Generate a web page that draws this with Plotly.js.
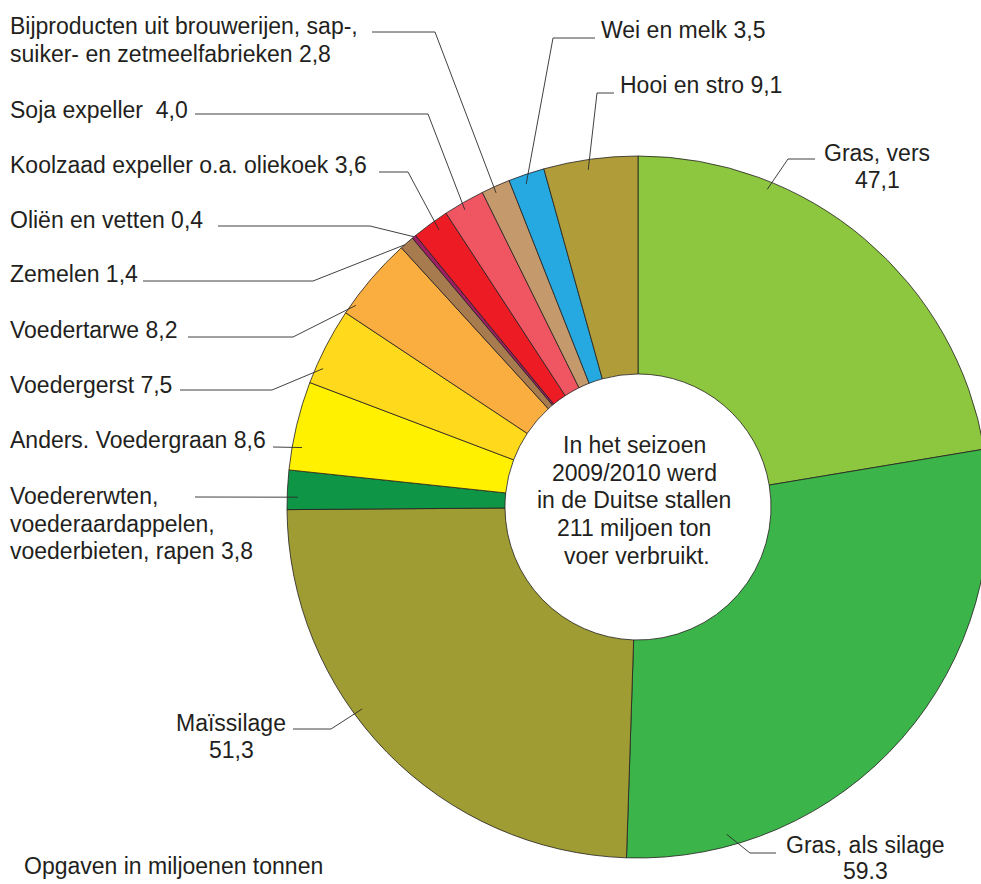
<!DOCTYPE html>
<html>
<head>
<meta charset="utf-8">
<script src="https://cdn.plot.ly/plotly-3.0.1.min.js"></script>
<style>
html, body { margin: 0; padding: 0; overflow: hidden; background: #ffffff; }
#chart { width: 1000px; height: 884px; }
</style>
</head>
<body>
<div id="chart"></div>
<script>
// ---------- DATA ----------
const categories = [
  "Gras, vers",
  "Gras, als silage",
  "Maïssilage",
  "Voedererwten, voederaardappelen, voederbieten, rapen",
  "Anders. Voedergraan",
  "Voedergerst",
  "Voedertarwe",
  "Zemelen",
  "Oliën en vetten",
  "Koolzaad expeller o.a. oliekoek",
  "Soja expeller",
  "Bijproducten uit brouwerijen, sap-, suiker- en zetmeelfabrieken",
  "Wei en melk",
  "Hooi en stro"
];
const values = [47.1, 59.3, 51.3, 3.8, 8.6, 7.5, 8.2, 1.4, 0.4, 3.6, 4.0, 2.8, 3.5, 9.1];
const labelLines = [
  ["Gras, vers", "47,1"],
  ["Gras, als silage", "59.3"],
  ["Maïssilage", "51,3"],
  ["Voedererwten,", "voederaardappelen,", "voederbieten, rapen 3,8"],
  ["Anders. Voedergraan 8,6"],
  ["Voedergerst 7,5"],
  ["Voedertarwe 8,2"],
  ["Zemelen 1,4"],
  ["Oliën en vetten 0,4"],
  ["Koolzaad expeller o.a. oliekoek 3,6"],
  ["Soja expeller\u00a0 4,0"],
  ["Bijproducten uit brouwerijen, sap-,", "suiker- en zetmeelfabrieken 2,8"],
  ["Wei en melk 3,5"],
  ["Hooi en stro 9,1"]
];
const centerLines = ["In het seizoen", "2009/2010 werd", "in de Duitse stallen", "211 miljoen ton", "voer verbruikt."];
const footnote = "Opgaven in miljoenen tonnen";

// ---------- STYLE / LAYOUT ----------
const colors = [
  "#8dc63f", "#3bb54a", "#9f9c33", "#0f9546", "#fff100", "#ffd91c", "#fbae40",
  "#a87b4f", "#9e1f63", "#ed1c24", "#ef5662", "#c49a6c", "#25a9e0", "#b09d3a"
];
const W = 1000, H = 884;
const CX = 638, CY = 507, R = 351, HOLE = 0.379;
const FONT = { family: "Liberation Sans, Arial, Helvetica, sans-serif", size: 23, color: "#231f20" };

// label placement (pixels): text position, line gap, leader line text-end x, elbow x, line y, position within slice, radius factor
const labelLayout = [
  { x: 877, y: 153,   gap: 27.5, anchor: "center", lx: 815, ex: 788, ly: 159, f: 0.275, rf: 0.977 },
  { x: 865, y: 845,   gap: 25.5, anchor: "center", lx: 776, ex: 750, ly: 853, f: 0.832, rf: 0.966 },
  { x: 231, y: 722.5, gap: 27.5, anchor: "center", lx: 293, ex: 331, ly: 729, f: 0.592, rf: 0.974 },
  { x: 8,   y: 496,   gap: 27.5, anchor: "left",   lx: 195, ex: 195, ly: 497, f: 0.32,  rf: 0.969 },
  { x: 8,   y: 440,   gap: 27.5, anchor: "left",   lx: 273, ex: 273, ly: 447, f: 0.27,  rf: 0.972 },
  { x: 8,   y: 385,   gap: 27.5, anchor: "left",   lx: 180, ex: 272, ly: 390, f: 0.23,  rf: 0.98 },
  { x: 8,   y: 330,   gap: 27.5, anchor: "left",   lx: 188, ex: 293, ly: 337, f: 0.14,  rf: 0.988 },
  { x: 8,   y: 274,   gap: 27.5, anchor: "left",   lx: 143, ex: 313, ly: 281, f: 0.3,   rf: 1.0 },
  { x: 8,   y: 219.5, gap: 27.5, anchor: "left",   lx: 218, ex: 370, ly: 226, f: 0.5,   rf: 1.0 },
  { x: 8,   y: 164.5, gap: 27.5, anchor: "left",   lx: 379, ex: 408, ly: 172, f: 0.59,  rf: 0.972 },
  { x: 8,   y: 109.5, gap: 27.5, anchor: "left",   lx: 195, ex: 428, ly: 114, f: 0.43,  rf: 0.98 },
  { x: 8,   y: 26,    gap: 27.5, anchor: "left",   lx: 372, ex: 435, ly: 32,  f: 0.42,  rf: 0.982 },
  { x: 599, y: 30,    gap: 27.5, anchor: "left",   lx: 595, ex: 553, ly: 38,  f: 0.41,  rf: 0.974 },
  { x: 618, y: 85,    gap: 27.5, anchor: "left",   lx: 614, ex: 597, ly: 93,  f: 0.46,  rf: 0.971 }
];

const px = v => v / W;
const py = v => 1 - v / H;

const total = values.reduce((a, b) => a + b, 0);
const annotations = [];
const shapes = [];
let cum = 0;
values.forEach((v, i) => {
  const L = labelLayout[i];
  const theta = (cum + L.f * v) / total * 2 * Math.PI;   // clockwise from 12 o'clock
  cum += v;
  const ax = CX + L.rf * R * Math.sin(theta);
  const ay = CY - L.rf * R * Math.cos(theta);
  shapes.push({
    type: "path", xref: "paper", yref: "paper",
    path: `M ${px(L.lx)} ${py(L.ly)} L ${px(L.ex)} ${py(L.ly)} L ${px(ax)} ${py(ay)}`,
    line: { color: "#2b2b2b", width: 0.9 }
  });
  labelLines[i].forEach((t, k) => {
    annotations.push({
      xref: "paper", yref: "paper", x: px(L.x), y: py(L.y + k * L.gap),
      xanchor: L.anchor, yanchor: "middle", text: t, showarrow: false, font: FONT
    });
  });
});

centerLines.forEach((t, k) => {
  annotations.push({
    xref: "paper", yref: "paper", x: px(k === 4 ? 637 : 634), y: py(445 + k * 27.7),
    xanchor: "center", yanchor: "middle", text: t, showarrow: false, font: FONT
  });
});
annotations.push({
  xref: "paper", yref: "paper", x: px(22), y: py(866),
  xanchor: "left", yanchor: "middle", text: footnote, showarrow: false, font: FONT
});

const trace = {
  type: "pie",
  values: values,
  labels: categories,
  sort: false,
  direction: "clockwise",
  rotation: 0,
  hole: HOLE,
  textinfo: "none",
  hoverinfo: "skip",
  marker: { colors: colors, line: { color: "#231f20", width: 0.8 } },
  domain: { x: [px(CX - R), px(CX + R)], y: [(H - CY - R) / H, (H - CY + R) / H] }
};

const layout = {
  width: W, height: H,
  margin: { l: 0, r: 0, t: 0, b: 0, pad: 0 },
  showlegend: false,
  paper_bgcolor: "#ffffff",
  plot_bgcolor: "#ffffff",
  annotations: annotations,
  shapes: shapes,
  font: FONT
};

Plotly.newPlot("chart", [trace], layout, { displayModeBar: false, staticPlot: true });
</script>
</body>
</html>
